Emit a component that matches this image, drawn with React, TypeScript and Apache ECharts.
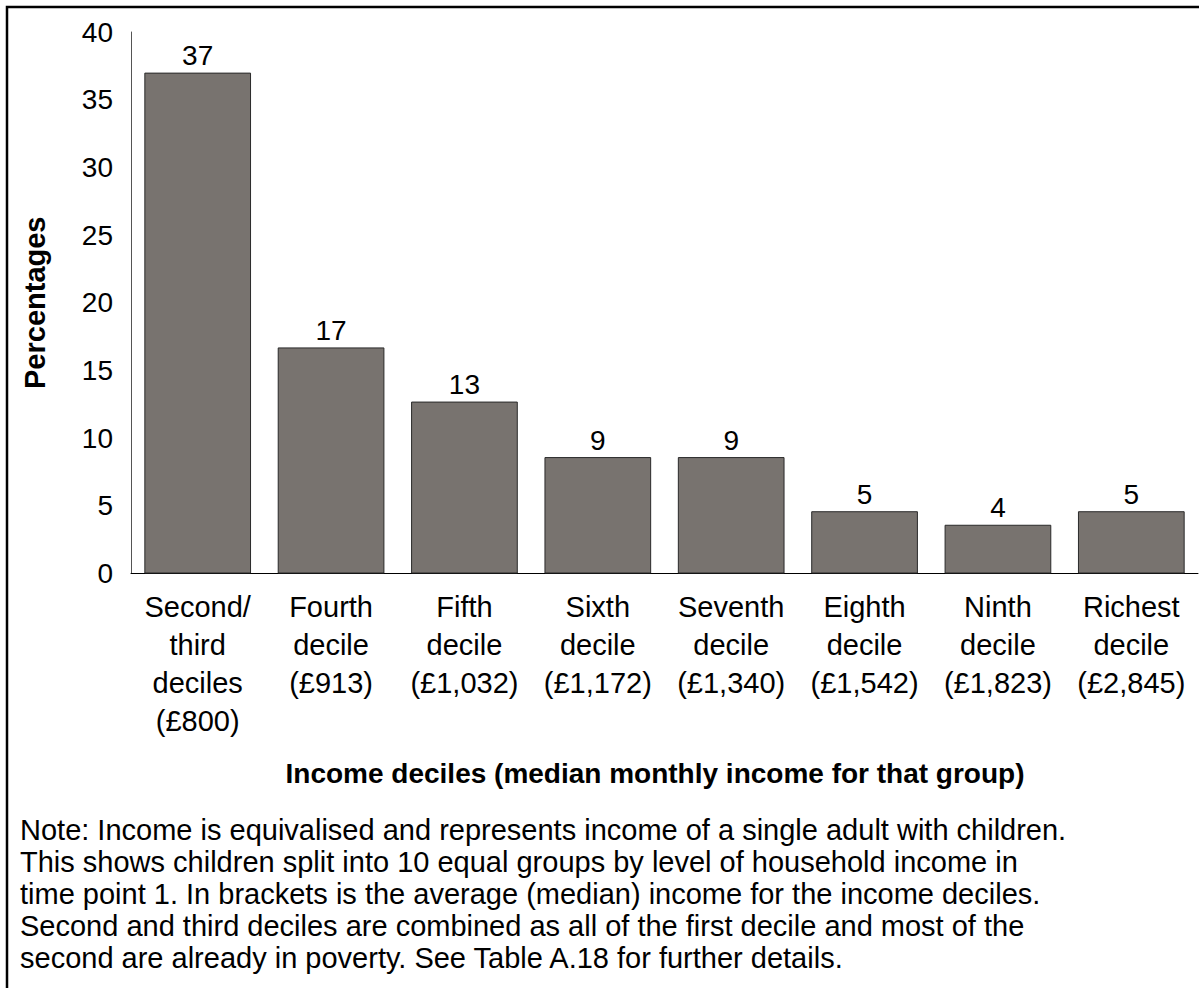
import React, { useEffect, useRef } from "react";
import * as echarts from "echarts";

const categories = [
  "Second/\nthird\ndeciles\n(£800)",
  "Fourth\ndecile\n(£913)",
  "Fifth\ndecile\n(£1,032)",
  "Sixth\ndecile\n(£1,172)",
  "Seventh\ndecile\n(£1,340)",
  "Eighth\ndecile\n(£1,542)",
  "Ninth\ndecile\n(£1,823)",
  "Richest\ndecile\n(£2,845)",
];
const values = [37.0, 16.7, 12.7, 8.6, 8.6, 4.6, 3.6, 4.6];
const yAxisName = "Percentages";
const xAxisName = "Income deciles (median monthly income for that group)";
const noteLines = [
  "Note: Income is equivalised and represents income of a single adult with children.",
  "This shows children split into 10 equal groups by level of household income in",
  "time point 1. In brackets is the average (median) income for the income deciles.",
  "Second and third deciles are combined as all of the first decile and most of the",
  "second are already in poverty. See Table A.18 for further details.",
];

const FONT = '"Liberation Sans", Arial, Helvetica, sans-serif';

export default function App() {
  const ref = useRef<HTMLDivElement>(null);
  useEffect(() => {
    if (!ref.current) return;
    const chart = echarts.init(ref.current, null, { renderer: "svg" });
    chart.setOption({
      animation: false,
      backgroundColor: "#ffffff",
      textStyle: { fontFamily: FONT },
      grid: { left: 131, right: 1, top: 32, bottom: 414.5, containLabel: false },
      xAxis: {
        type: "category",
        data: categories,
        axisLine: { show: true, lineStyle: { color: "#000", width: 1 } },
        axisTick: { show: false },
        axisLabel: {
          interval: 0,
          margin: 14,
          fontSize: 29,
          lineHeight: 38,
          color: "#000",
          fontFamily: FONT,
          align: "center",
        },
      },
      yAxis: {
        type: "value",
        min: 0,
        max: 40,
        interval: 5,
        name: yAxisName,
        nameLocation: "middle",
        nameGap: 82,
        nameRotate: 90,
        nameTextStyle: { fontSize: 29, fontWeight: "bold", color: "#000", fontFamily: FONT },
        axisLine: { show: true, lineStyle: { color: "#555", width: 1 } },
        axisTick: { show: false },
        splitLine: { show: false },
        axisLabel: { fontSize: 28, color: "#000", margin: 18, fontFamily: FONT },
      },
      series: [
        {
          type: "bar",
          data: values,
          barCategoryGap: "20%",
          itemStyle: { color: "#78736f", borderColor: "#2a2a2a", borderWidth: 1 },
          label: {
            show: true,
            position: "top",
            distance: 3,
            fontSize: 28,
            color: "#000",
            fontFamily: FONT,
            formatter: (p: any) => String(Math.round(p.value)),
          },
        },
      ],
      graphic: [
        {
          type: "rect",
          shape: { x: 7, y: 7, width: 1300, height: 1100 },
          style: { fill: "none", stroke: "#000", lineWidth: 2.5 },
          silent: true,
        },
        {
          type: "text",
          x: 655,
          y: 773,
          style: {
            text: xAxisName,
            fontSize: 28,
            fontWeight: "bold",
            fill: "#000",
            fontFamily: FONT,
            textAlign: "center",
            textVerticalAlign: "middle",
          },
        },
        ...noteLines.map((line, i) => ({
          type: "text",
          x: 20,
          y: 830 + i * 32,
          style: {
            text: line,
            fontSize: 29,
            fill: "#000",
            fontFamily: FONT,
            textAlign: "left",
            textVerticalAlign: "middle",
          },
        })),
      ],
    });
    return () => chart.dispose();
  }, []);
  return (
    <div
      ref={ref}
      style={{ position: "absolute", left: 0, top: 0, width: 1199, height: 988 }}
    />
  );
}
